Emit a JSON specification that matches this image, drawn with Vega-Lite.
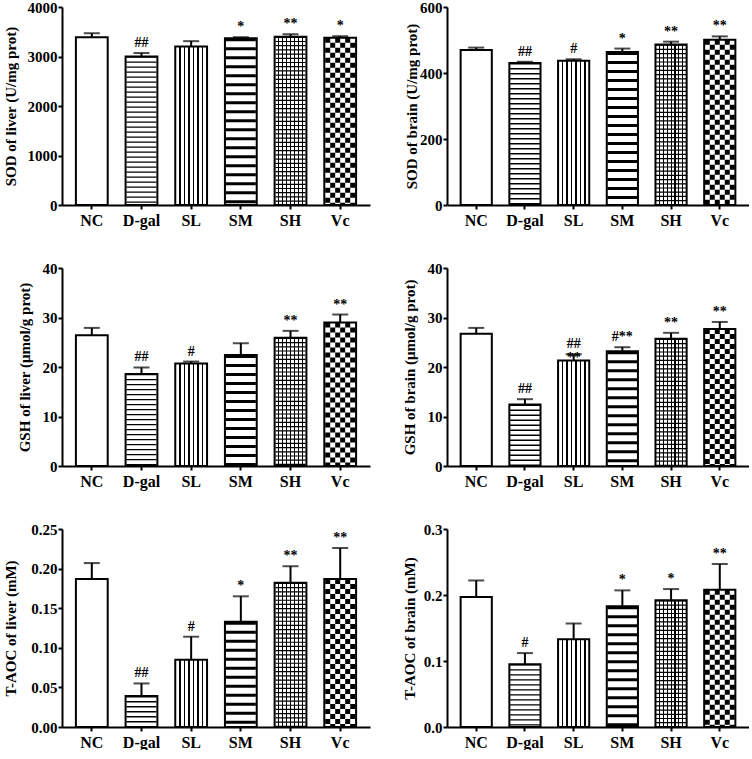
{
"$schema": "https://vega.github.io/schema/vega-lite/v6.json",
"padding": {"left": 2, "top": 0, "right": 0, "bottom": 0},
"background": "white",
"datasets": {"d": [
{"p":1,"g":"NC","v":3390,"e":3470,"s":""},
{"p":1,"g":"D-gal","v":3000,"e":3070,"s":"##"},
{"p":1,"g":"SL","v":3200,"e":3310,"s":""},
{"p":1,"g":"SM","v":3370,"e":3390,"s":"*"},
{"p":1,"g":"SH","v":3400,"e":3450,"s":"**"},
{"p":1,"g":"Vc","v":3380,"e":3410,"s":"*"},
{"p":2,"g":"NC","v":470,"e":477,"s":""},
{"p":2,"g":"D-gal","v":430,"e":434,"s":"##"},
{"p":2,"g":"SL","v":437,"e":442,"s":"#"},
{"p":2,"g":"SM","v":464,"e":474,"s":"*"},
{"p":2,"g":"SH","v":486,"e":495,"s":"**"},
{"p":2,"g":"Vc","v":501,"e":511,"s":"**"},
{"p":3,"g":"NC","v":26.4,"e":27.9,"s":""},
{"p":3,"g":"D-gal","v":18.6,"e":19.9,"s":"##"},
{"p":3,"g":"SL","v":20.7,"e":21.1,"s":"#"},
{"p":3,"g":"SM","v":22.4,"e":24.8,"s":""},
{"p":3,"g":"SH","v":25.9,"e":27.3,"s":"**"},
{"p":3,"g":"Vc","v":29.0,"e":30.6,"s":"**"},
{"p":4,"g":"NC","v":26.7,"e":27.9,"s":""},
{"p":4,"g":"D-gal","v":12.4,"e":13.5,"s":"##"},
{"p":4,"g":"SL","v":21.3,"e":22.6,"s":"##\n**"},
{"p":4,"g":"SM","v":23.2,"e":24.0,"s":"#**"},
{"p":4,"g":"SH","v":25.7,"e":26.9,"s":"**"},
{"p":4,"g":"Vc","v":27.7,"e":29.1,"s":"**"},
{"p":5,"g":"NC","v":0.187,"e":0.207,"s":""},
{"p":5,"g":"D-gal","v":0.039,"e":0.055,"s":"##"},
{"p":5,"g":"SL","v":0.085,"e":0.114,"s":"#"},
{"p":5,"g":"SM","v":0.133,"e":0.165,"s":"*"},
{"p":5,"g":"SH","v":0.182,"e":0.203,"s":"**"},
{"p":5,"g":"Vc","v":0.187,"e":0.226,"s":"**"},
{"p":6,"g":"NC","v":0.197,"e":0.222,"s":""},
{"p":6,"g":"D-gal","v":0.095,"e":0.112,"s":"#"},
{"p":6,"g":"SL","v":0.133,"e":0.157,"s":""},
{"p":6,"g":"SM","v":0.183,"e":0.207,"s":"*"},
{"p":6,"g":"SH","v":0.192,"e":0.209,"s":"*"},
{"p":6,"g":"Vc","v":0.208,"e":0.247,"s":"**"}
]},
"config": {
"view": {"stroke": null},
"font": "Liberation Serif",
"axis": {"grid": false, "domainColor": "#000", "domainWidth": 2, "tickColor": "#000", "tickWidth": 2, "tickSize": 4, "labelFont": "Liberation Serif", "labelFontSize": 16, "labelFontWeight": "bold", "labelColor": "#000", "titleFont": "Liberation Serif", "titleFontSize": 15, "titleFontWeight": "bold", "titleColor": "#000"},
"axisX": {"labelAngle": 0, "labelPadding": 3},
"axisY": {"labelPadding": 1, "labelFontSize": 15, "titleBaseline": "bottom"}
},
"columns": 2,
"spacing": {"row": 63, "column": 77},
"bounds": "flush",
"concat": [
{"width": 308, "height": 198, "data": {"name": "d"}, "transform": [{"filter": "datum.p == 1"}],
"encoding": {"x": {"field": "g", "type": "nominal", "sort": null, "scale": {"domain": ["NC","D-gal","SL","SM","SH","Vc"], "paddingInner": 0.36, "paddingOuter": 0.28}, "axis": {"title": null}},
"y": {"field": "v", "type": "quantitative", "scale": {"domain": [0, 4000], "nice": false}, "axis": {"title": "SOD of liver (U/mg prot)", "values": [0,1000,2000,3000,4000], "format": "d", "titleX": -44}}},
"layer": [
{"mark": {"type": "bar", "fill": "#fff", "strokeWidth": 0}},
{"transform": [{"filter": "datum.g == 'SL'"}], "mark": {"type": "bar", "strokeWidth": 0, "fill": {"gradient":"linear","x1":0,"y1":0,"x2":1,"y2":0,"stops":[{"offset":0,"color":"#fff"},{"offset":0.119,"color":"#fff"},{"offset":0.119,"color":"#000"},{"offset":0.167,"color":"#000"},{"offset":0.167,"color":"#fff"},{"offset":0.262,"color":"#fff"},{"offset":0.262,"color":"#000"},{"offset":0.31,"color":"#000"},{"offset":0.31,"color":"#fff"},{"offset":0.405,"color":"#fff"},{"offset":0.405,"color":"#000"},{"offset":0.453,"color":"#000"},{"offset":0.453,"color":"#fff"},{"offset":0.547,"color":"#fff"},{"offset":0.547,"color":"#000"},{"offset":0.595,"color":"#000"},{"offset":0.595,"color":"#fff"},{"offset":0.69,"color":"#fff"},{"offset":0.69,"color":"#000"},{"offset":0.738,"color":"#000"},{"offset":0.738,"color":"#fff"},{"offset":0.833,"color":"#fff"},{"offset":0.833,"color":"#000"},{"offset":0.881,"color":"#000"},{"offset":0.881,"color":"#fff"},{"offset":1,"color":"#fff"}]}}},
{"transform": [{"filter": "datum.g == 'SH'"}], "mark": {"type": "bar", "strokeWidth": 0, "fill": {"gradient":"linear","x1":0,"y1":0,"x2":1,"y2":0,"stops":[{"offset":0,"color":"#fff"},{"offset":0.107,"color":"#fff"},{"offset":0.107,"color":"#000"},{"offset":0.143,"color":"#000"},{"offset":0.143,"color":"#fff"},{"offset":0.232,"color":"#fff"},{"offset":0.232,"color":"#000"},{"offset":0.268,"color":"#000"},{"offset":0.268,"color":"#fff"},{"offset":0.357,"color":"#fff"},{"offset":0.357,"color":"#000"},{"offset":0.393,"color":"#000"},{"offset":0.393,"color":"#fff"},{"offset":0.482,"color":"#fff"},{"offset":0.482,"color":"#000"},{"offset":0.518,"color":"#000"},{"offset":0.518,"color":"#fff"},{"offset":0.607,"color":"#fff"},{"offset":0.607,"color":"#000"},{"offset":0.643,"color":"#000"},{"offset":0.643,"color":"#fff"},{"offset":0.732,"color":"#fff"},{"offset":0.732,"color":"#000"},{"offset":0.768,"color":"#000"},{"offset":0.768,"color":"#fff"},{"offset":0.857,"color":"#fff"},{"offset":0.857,"color":"#000"},{"offset":0.893,"color":"#000"},{"offset":0.893,"color":"#fff"},{"offset":1,"color":"#fff"}]}}},
{"transform": [{"filter": "datum.g == 'D-gal'"}], "mark": {"type": "rule", "color": "#000", "strokeWidth": 30, "strokeDash": [1.3, 3.7]}, "encoding": {"y2": {"datum": 0}}},
{"transform": [{"filter": "datum.g == 'SM'"}], "mark": {"type": "rule", "color": "#000", "strokeWidth": 30, "strokeDash": [3, 6]}, "encoding": {"y2": {"datum": 0}}},
{"transform": [{"filter": "datum.g == 'SH'"}], "mark": {"type": "rule", "color": "#000", "strokeWidth": 30, "strokeDash": [1.2, 3]}, "encoding": {"y2": {"datum": 0}}},
{"transform": [{"filter": "datum.g == 'Vc'"}], "mark": {"type": "rule", "color": "#000", "strokeWidth": 5, "strokeDash": [5, 5], "xOffset": -12.5}, "encoding": {"y2": {"datum": 0}}},
{"transform": [{"filter": "datum.g == 'Vc'"}], "mark": {"type": "rule", "color": "#000", "strokeWidth": 5, "strokeDash": [5, 5], "strokeDashOffset": 5, "xOffset": -7.5}, "encoding": {"y2": {"datum": 0}}},
{"transform": [{"filter": "datum.g == 'Vc'"}], "mark": {"type": "rule", "color": "#000", "strokeWidth": 5, "strokeDash": [5, 5], "xOffset": -2.5}, "encoding": {"y2": {"datum": 0}}},
{"transform": [{"filter": "datum.g == 'Vc'"}], "mark": {"type": "rule", "color": "#000", "strokeWidth": 5, "strokeDash": [5, 5], "strokeDashOffset": 5, "xOffset": 2.5}, "encoding": {"y2": {"datum": 0}}},
{"transform": [{"filter": "datum.g == 'Vc'"}], "mark": {"type": "rule", "color": "#000", "strokeWidth": 5, "strokeDash": [5, 5], "xOffset": 7.5}, "encoding": {"y2": {"datum": 0}}},
{"transform": [{"filter": "datum.g == 'Vc'"}], "mark": {"type": "rule", "color": "#000", "strokeWidth": 5, "strokeDash": [5, 5], "strokeDashOffset": 5, "xOffset": 12.5}, "encoding": {"y2": {"datum": 0}}},
{"mark": {"type": "bar", "fill": "#fff", "fillOpacity": 0, "stroke": "#000", "strokeWidth": 2}},
{"mark": {"type": "rule", "color": "#000", "strokeWidth": 2}, "encoding": {"y2": {"field": "e"}}},
{"mark": {"type": "tick", "color": "#000", "size": 16, "thickness": 2}, "encoding": {"y": {"field": "e", "type": "quantitative"}}},
{"mark": {"type": "text", "font": "Liberation Serif", "fontWeight": "bold", "fontSize": 14, "baseline": "bottom", "dy": -3, "lineBreak": "\n", "lineHeight": 14, "color": "#000"}, "encoding": {"y": {"field": "e", "type": "quantitative"}, "text": {"field": "s"}}}
]},
{"width": 302, "height": 198, "data": {"name": "d"}, "transform": [{"filter": "datum.p == 2"}],
"encoding": {"x": {"field": "g", "type": "nominal", "sort": null, "scale": {"domain": ["NC","D-gal","SL","SM","SH","Vc"], "paddingInner": 0.36, "paddingOuter": 0.28}, "axis": {"title": null}},
"y": {"field": "v", "type": "quantitative", "scale": {"domain": [0, 600], "nice": false}, "axis": {"title": "SOD of brain (U/mg prot)", "values": [0,200,400,600], "titleX": -28}}},
"layer": [
{"mark": {"type": "bar", "fill": "#fff", "strokeWidth": 0}},
{"transform": [{"filter": "datum.g == 'SL'"}], "mark": {"type": "bar", "strokeWidth": 0, "fill": {"gradient":"linear","x1":0,"y1":0,"x2":1,"y2":0,"stops":[{"offset":0,"color":"#fff"},{"offset":0.119,"color":"#fff"},{"offset":0.119,"color":"#000"},{"offset":0.167,"color":"#000"},{"offset":0.167,"color":"#fff"},{"offset":0.262,"color":"#fff"},{"offset":0.262,"color":"#000"},{"offset":0.31,"color":"#000"},{"offset":0.31,"color":"#fff"},{"offset":0.405,"color":"#fff"},{"offset":0.405,"color":"#000"},{"offset":0.453,"color":"#000"},{"offset":0.453,"color":"#fff"},{"offset":0.547,"color":"#fff"},{"offset":0.547,"color":"#000"},{"offset":0.595,"color":"#000"},{"offset":0.595,"color":"#fff"},{"offset":0.69,"color":"#fff"},{"offset":0.69,"color":"#000"},{"offset":0.738,"color":"#000"},{"offset":0.738,"color":"#fff"},{"offset":0.833,"color":"#fff"},{"offset":0.833,"color":"#000"},{"offset":0.881,"color":"#000"},{"offset":0.881,"color":"#fff"},{"offset":1,"color":"#fff"}]}}},
{"transform": [{"filter": "datum.g == 'SH'"}], "mark": {"type": "bar", "strokeWidth": 0, "fill": {"gradient":"linear","x1":0,"y1":0,"x2":1,"y2":0,"stops":[{"offset":0,"color":"#fff"},{"offset":0.107,"color":"#fff"},{"offset":0.107,"color":"#000"},{"offset":0.143,"color":"#000"},{"offset":0.143,"color":"#fff"},{"offset":0.232,"color":"#fff"},{"offset":0.232,"color":"#000"},{"offset":0.268,"color":"#000"},{"offset":0.268,"color":"#fff"},{"offset":0.357,"color":"#fff"},{"offset":0.357,"color":"#000"},{"offset":0.393,"color":"#000"},{"offset":0.393,"color":"#fff"},{"offset":0.482,"color":"#fff"},{"offset":0.482,"color":"#000"},{"offset":0.518,"color":"#000"},{"offset":0.518,"color":"#fff"},{"offset":0.607,"color":"#fff"},{"offset":0.607,"color":"#000"},{"offset":0.643,"color":"#000"},{"offset":0.643,"color":"#fff"},{"offset":0.732,"color":"#fff"},{"offset":0.732,"color":"#000"},{"offset":0.768,"color":"#000"},{"offset":0.768,"color":"#fff"},{"offset":0.857,"color":"#fff"},{"offset":0.857,"color":"#000"},{"offset":0.893,"color":"#000"},{"offset":0.893,"color":"#fff"},{"offset":1,"color":"#fff"}]}}},
{"transform": [{"filter": "datum.g == 'D-gal'"}], "mark": {"type": "rule", "color": "#000", "strokeWidth": 30, "strokeDash": [1.3, 3.7]}, "encoding": {"y2": {"datum": 0}}},
{"transform": [{"filter": "datum.g == 'SM'"}], "mark": {"type": "rule", "color": "#000", "strokeWidth": 30, "strokeDash": [3, 6]}, "encoding": {"y2": {"datum": 0}}},
{"transform": [{"filter": "datum.g == 'SH'"}], "mark": {"type": "rule", "color": "#000", "strokeWidth": 30, "strokeDash": [1.2, 3]}, "encoding": {"y2": {"datum": 0}}},
{"transform": [{"filter": "datum.g == 'Vc'"}], "mark": {"type": "rule", "color": "#000", "strokeWidth": 5, "strokeDash": [5, 5], "xOffset": -12.5}, "encoding": {"y2": {"datum": 0}}},
{"transform": [{"filter": "datum.g == 'Vc'"}], "mark": {"type": "rule", "color": "#000", "strokeWidth": 5, "strokeDash": [5, 5], "strokeDashOffset": 5, "xOffset": -7.5}, "encoding": {"y2": {"datum": 0}}},
{"transform": [{"filter": "datum.g == 'Vc'"}], "mark": {"type": "rule", "color": "#000", "strokeWidth": 5, "strokeDash": [5, 5], "xOffset": -2.5}, "encoding": {"y2": {"datum": 0}}},
{"transform": [{"filter": "datum.g == 'Vc'"}], "mark": {"type": "rule", "color": "#000", "strokeWidth": 5, "strokeDash": [5, 5], "strokeDashOffset": 5, "xOffset": 2.5}, "encoding": {"y2": {"datum": 0}}},
{"transform": [{"filter": "datum.g == 'Vc'"}], "mark": {"type": "rule", "color": "#000", "strokeWidth": 5, "strokeDash": [5, 5], "xOffset": 7.5}, "encoding": {"y2": {"datum": 0}}},
{"transform": [{"filter": "datum.g == 'Vc'"}], "mark": {"type": "rule", "color": "#000", "strokeWidth": 5, "strokeDash": [5, 5], "strokeDashOffset": 5, "xOffset": 12.5}, "encoding": {"y2": {"datum": 0}}},
{"mark": {"type": "bar", "fill": "#fff", "fillOpacity": 0, "stroke": "#000", "strokeWidth": 2}},
{"mark": {"type": "rule", "color": "#000", "strokeWidth": 2}, "encoding": {"y2": {"field": "e"}}},
{"mark": {"type": "tick", "color": "#000", "size": 16, "thickness": 2}, "encoding": {"y": {"field": "e", "type": "quantitative"}}},
{"mark": {"type": "text", "font": "Liberation Serif", "fontWeight": "bold", "fontSize": 14, "baseline": "bottom", "dy": -3, "lineBreak": "\n", "lineHeight": 14, "color": "#000"}, "encoding": {"y": {"field": "e", "type": "quantitative"}, "text": {"field": "s"}}}
]},
{"width": 308, "height": 198, "data": {"name": "d"}, "transform": [{"filter": "datum.p == 3"}],
"encoding": {"x": {"field": "g", "type": "nominal", "sort": null, "scale": {"domain": ["NC","D-gal","SL","SM","SH","Vc"], "paddingInner": 0.36, "paddingOuter": 0.28}, "axis": {"title": null}},
"y": {"field": "v", "type": "quantitative", "scale": {"domain": [0, 40], "nice": false}, "axis": {"title": "GSH of liver (μmol/g prot)", "values": [0,10,20,30,40], "titleX": -30}}},
"layer": [
{"mark": {"type": "bar", "fill": "#fff", "strokeWidth": 0}},
{"transform": [{"filter": "datum.g == 'SL'"}], "mark": {"type": "bar", "strokeWidth": 0, "fill": {"gradient":"linear","x1":0,"y1":0,"x2":1,"y2":0,"stops":[{"offset":0,"color":"#fff"},{"offset":0.119,"color":"#fff"},{"offset":0.119,"color":"#000"},{"offset":0.167,"color":"#000"},{"offset":0.167,"color":"#fff"},{"offset":0.262,"color":"#fff"},{"offset":0.262,"color":"#000"},{"offset":0.31,"color":"#000"},{"offset":0.31,"color":"#fff"},{"offset":0.405,"color":"#fff"},{"offset":0.405,"color":"#000"},{"offset":0.453,"color":"#000"},{"offset":0.453,"color":"#fff"},{"offset":0.547,"color":"#fff"},{"offset":0.547,"color":"#000"},{"offset":0.595,"color":"#000"},{"offset":0.595,"color":"#fff"},{"offset":0.69,"color":"#fff"},{"offset":0.69,"color":"#000"},{"offset":0.738,"color":"#000"},{"offset":0.738,"color":"#fff"},{"offset":0.833,"color":"#fff"},{"offset":0.833,"color":"#000"},{"offset":0.881,"color":"#000"},{"offset":0.881,"color":"#fff"},{"offset":1,"color":"#fff"}]}}},
{"transform": [{"filter": "datum.g == 'SH'"}], "mark": {"type": "bar", "strokeWidth": 0, "fill": {"gradient":"linear","x1":0,"y1":0,"x2":1,"y2":0,"stops":[{"offset":0,"color":"#fff"},{"offset":0.107,"color":"#fff"},{"offset":0.107,"color":"#000"},{"offset":0.143,"color":"#000"},{"offset":0.143,"color":"#fff"},{"offset":0.232,"color":"#fff"},{"offset":0.232,"color":"#000"},{"offset":0.268,"color":"#000"},{"offset":0.268,"color":"#fff"},{"offset":0.357,"color":"#fff"},{"offset":0.357,"color":"#000"},{"offset":0.393,"color":"#000"},{"offset":0.393,"color":"#fff"},{"offset":0.482,"color":"#fff"},{"offset":0.482,"color":"#000"},{"offset":0.518,"color":"#000"},{"offset":0.518,"color":"#fff"},{"offset":0.607,"color":"#fff"},{"offset":0.607,"color":"#000"},{"offset":0.643,"color":"#000"},{"offset":0.643,"color":"#fff"},{"offset":0.732,"color":"#fff"},{"offset":0.732,"color":"#000"},{"offset":0.768,"color":"#000"},{"offset":0.768,"color":"#fff"},{"offset":0.857,"color":"#fff"},{"offset":0.857,"color":"#000"},{"offset":0.893,"color":"#000"},{"offset":0.893,"color":"#fff"},{"offset":1,"color":"#fff"}]}}},
{"transform": [{"filter": "datum.g == 'D-gal'"}], "mark": {"type": "rule", "color": "#000", "strokeWidth": 30, "strokeDash": [1.3, 3.7]}, "encoding": {"y2": {"datum": 0}}},
{"transform": [{"filter": "datum.g == 'SM'"}], "mark": {"type": "rule", "color": "#000", "strokeWidth": 30, "strokeDash": [3, 6]}, "encoding": {"y2": {"datum": 0}}},
{"transform": [{"filter": "datum.g == 'SH'"}], "mark": {"type": "rule", "color": "#000", "strokeWidth": 30, "strokeDash": [1.2, 3]}, "encoding": {"y2": {"datum": 0}}},
{"transform": [{"filter": "datum.g == 'Vc'"}], "mark": {"type": "rule", "color": "#000", "strokeWidth": 5, "strokeDash": [5, 5], "xOffset": -12.5}, "encoding": {"y2": {"datum": 0}}},
{"transform": [{"filter": "datum.g == 'Vc'"}], "mark": {"type": "rule", "color": "#000", "strokeWidth": 5, "strokeDash": [5, 5], "strokeDashOffset": 5, "xOffset": -7.5}, "encoding": {"y2": {"datum": 0}}},
{"transform": [{"filter": "datum.g == 'Vc'"}], "mark": {"type": "rule", "color": "#000", "strokeWidth": 5, "strokeDash": [5, 5], "xOffset": -2.5}, "encoding": {"y2": {"datum": 0}}},
{"transform": [{"filter": "datum.g == 'Vc'"}], "mark": {"type": "rule", "color": "#000", "strokeWidth": 5, "strokeDash": [5, 5], "strokeDashOffset": 5, "xOffset": 2.5}, "encoding": {"y2": {"datum": 0}}},
{"transform": [{"filter": "datum.g == 'Vc'"}], "mark": {"type": "rule", "color": "#000", "strokeWidth": 5, "strokeDash": [5, 5], "xOffset": 7.5}, "encoding": {"y2": {"datum": 0}}},
{"transform": [{"filter": "datum.g == 'Vc'"}], "mark": {"type": "rule", "color": "#000", "strokeWidth": 5, "strokeDash": [5, 5], "strokeDashOffset": 5, "xOffset": 12.5}, "encoding": {"y2": {"datum": 0}}},
{"mark": {"type": "bar", "fill": "#fff", "fillOpacity": 0, "stroke": "#000", "strokeWidth": 2}},
{"mark": {"type": "rule", "color": "#000", "strokeWidth": 2}, "encoding": {"y2": {"field": "e"}}},
{"mark": {"type": "tick", "color": "#000", "size": 16, "thickness": 2}, "encoding": {"y": {"field": "e", "type": "quantitative"}}},
{"mark": {"type": "text", "font": "Liberation Serif", "fontWeight": "bold", "fontSize": 14, "baseline": "bottom", "dy": -3, "lineBreak": "\n", "lineHeight": 14, "color": "#000"}, "encoding": {"y": {"field": "e", "type": "quantitative"}, "text": {"field": "s"}}}
]},
{"width": 302, "height": 198, "data": {"name": "d"}, "transform": [{"filter": "datum.p == 4"}],
"encoding": {"x": {"field": "g", "type": "nominal", "sort": null, "scale": {"domain": ["NC","D-gal","SL","SM","SH","Vc"], "paddingInner": 0.36, "paddingOuter": 0.28}, "axis": {"title": null}},
"y": {"field": "v", "type": "quantitative", "scale": {"domain": [0, 40], "nice": false}, "axis": {"title": "GSH of brain (μmol/g prot)", "values": [0,10,20,30,40], "titleX": -30}}},
"layer": [
{"mark": {"type": "bar", "fill": "#fff", "strokeWidth": 0}},
{"transform": [{"filter": "datum.g == 'SL'"}], "mark": {"type": "bar", "strokeWidth": 0, "fill": {"gradient":"linear","x1":0,"y1":0,"x2":1,"y2":0,"stops":[{"offset":0,"color":"#fff"},{"offset":0.119,"color":"#fff"},{"offset":0.119,"color":"#000"},{"offset":0.167,"color":"#000"},{"offset":0.167,"color":"#fff"},{"offset":0.262,"color":"#fff"},{"offset":0.262,"color":"#000"},{"offset":0.31,"color":"#000"},{"offset":0.31,"color":"#fff"},{"offset":0.405,"color":"#fff"},{"offset":0.405,"color":"#000"},{"offset":0.453,"color":"#000"},{"offset":0.453,"color":"#fff"},{"offset":0.547,"color":"#fff"},{"offset":0.547,"color":"#000"},{"offset":0.595,"color":"#000"},{"offset":0.595,"color":"#fff"},{"offset":0.69,"color":"#fff"},{"offset":0.69,"color":"#000"},{"offset":0.738,"color":"#000"},{"offset":0.738,"color":"#fff"},{"offset":0.833,"color":"#fff"},{"offset":0.833,"color":"#000"},{"offset":0.881,"color":"#000"},{"offset":0.881,"color":"#fff"},{"offset":1,"color":"#fff"}]}}},
{"transform": [{"filter": "datum.g == 'SH'"}], "mark": {"type": "bar", "strokeWidth": 0, "fill": {"gradient":"linear","x1":0,"y1":0,"x2":1,"y2":0,"stops":[{"offset":0,"color":"#fff"},{"offset":0.107,"color":"#fff"},{"offset":0.107,"color":"#000"},{"offset":0.143,"color":"#000"},{"offset":0.143,"color":"#fff"},{"offset":0.232,"color":"#fff"},{"offset":0.232,"color":"#000"},{"offset":0.268,"color":"#000"},{"offset":0.268,"color":"#fff"},{"offset":0.357,"color":"#fff"},{"offset":0.357,"color":"#000"},{"offset":0.393,"color":"#000"},{"offset":0.393,"color":"#fff"},{"offset":0.482,"color":"#fff"},{"offset":0.482,"color":"#000"},{"offset":0.518,"color":"#000"},{"offset":0.518,"color":"#fff"},{"offset":0.607,"color":"#fff"},{"offset":0.607,"color":"#000"},{"offset":0.643,"color":"#000"},{"offset":0.643,"color":"#fff"},{"offset":0.732,"color":"#fff"},{"offset":0.732,"color":"#000"},{"offset":0.768,"color":"#000"},{"offset":0.768,"color":"#fff"},{"offset":0.857,"color":"#fff"},{"offset":0.857,"color":"#000"},{"offset":0.893,"color":"#000"},{"offset":0.893,"color":"#fff"},{"offset":1,"color":"#fff"}]}}},
{"transform": [{"filter": "datum.g == 'D-gal'"}], "mark": {"type": "rule", "color": "#000", "strokeWidth": 30, "strokeDash": [1.3, 3.7]}, "encoding": {"y2": {"datum": 0}}},
{"transform": [{"filter": "datum.g == 'SM'"}], "mark": {"type": "rule", "color": "#000", "strokeWidth": 30, "strokeDash": [3, 6]}, "encoding": {"y2": {"datum": 0}}},
{"transform": [{"filter": "datum.g == 'SH'"}], "mark": {"type": "rule", "color": "#000", "strokeWidth": 30, "strokeDash": [1.2, 3]}, "encoding": {"y2": {"datum": 0}}},
{"transform": [{"filter": "datum.g == 'Vc'"}], "mark": {"type": "rule", "color": "#000", "strokeWidth": 5, "strokeDash": [5, 5], "xOffset": -12.5}, "encoding": {"y2": {"datum": 0}}},
{"transform": [{"filter": "datum.g == 'Vc'"}], "mark": {"type": "rule", "color": "#000", "strokeWidth": 5, "strokeDash": [5, 5], "strokeDashOffset": 5, "xOffset": -7.5}, "encoding": {"y2": {"datum": 0}}},
{"transform": [{"filter": "datum.g == 'Vc'"}], "mark": {"type": "rule", "color": "#000", "strokeWidth": 5, "strokeDash": [5, 5], "xOffset": -2.5}, "encoding": {"y2": {"datum": 0}}},
{"transform": [{"filter": "datum.g == 'Vc'"}], "mark": {"type": "rule", "color": "#000", "strokeWidth": 5, "strokeDash": [5, 5], "strokeDashOffset": 5, "xOffset": 2.5}, "encoding": {"y2": {"datum": 0}}},
{"transform": [{"filter": "datum.g == 'Vc'"}], "mark": {"type": "rule", "color": "#000", "strokeWidth": 5, "strokeDash": [5, 5], "xOffset": 7.5}, "encoding": {"y2": {"datum": 0}}},
{"transform": [{"filter": "datum.g == 'Vc'"}], "mark": {"type": "rule", "color": "#000", "strokeWidth": 5, "strokeDash": [5, 5], "strokeDashOffset": 5, "xOffset": 12.5}, "encoding": {"y2": {"datum": 0}}},
{"mark": {"type": "bar", "fill": "#fff", "fillOpacity": 0, "stroke": "#000", "strokeWidth": 2}},
{"mark": {"type": "rule", "color": "#000", "strokeWidth": 2}, "encoding": {"y2": {"field": "e"}}},
{"mark": {"type": "tick", "color": "#000", "size": 16, "thickness": 2}, "encoding": {"y": {"field": "e", "type": "quantitative"}}},
{"mark": {"type": "text", "font": "Liberation Serif", "fontWeight": "bold", "fontSize": 14, "baseline": "bottom", "dy": -3, "lineBreak": "\n", "lineHeight": 14, "color": "#000"}, "encoding": {"y": {"field": "e", "type": "quantitative"}, "text": {"field": "s"}}}
]},
{"width": 308, "height": 198, "data": {"name": "d"}, "transform": [{"filter": "datum.p == 5"}],
"encoding": {"x": {"field": "g", "type": "nominal", "sort": null, "scale": {"domain": ["NC","D-gal","SL","SM","SH","Vc"], "paddingInner": 0.36, "paddingOuter": 0.28}, "axis": {"title": null}},
"y": {"field": "v", "type": "quantitative", "scale": {"domain": [0, 0.25], "nice": false}, "axis": {"title": "T-AOC of liver (mM)", "values": [0,0.05,0.1,0.15,0.2,0.25], "format": ".2f", "titleX": -44}}},
"layer": [
{"mark": {"type": "bar", "fill": "#fff", "strokeWidth": 0}},
{"transform": [{"filter": "datum.g == 'SL'"}], "mark": {"type": "bar", "strokeWidth": 0, "fill": {"gradient":"linear","x1":0,"y1":0,"x2":1,"y2":0,"stops":[{"offset":0,"color":"#fff"},{"offset":0.119,"color":"#fff"},{"offset":0.119,"color":"#000"},{"offset":0.167,"color":"#000"},{"offset":0.167,"color":"#fff"},{"offset":0.262,"color":"#fff"},{"offset":0.262,"color":"#000"},{"offset":0.31,"color":"#000"},{"offset":0.31,"color":"#fff"},{"offset":0.405,"color":"#fff"},{"offset":0.405,"color":"#000"},{"offset":0.453,"color":"#000"},{"offset":0.453,"color":"#fff"},{"offset":0.547,"color":"#fff"},{"offset":0.547,"color":"#000"},{"offset":0.595,"color":"#000"},{"offset":0.595,"color":"#fff"},{"offset":0.69,"color":"#fff"},{"offset":0.69,"color":"#000"},{"offset":0.738,"color":"#000"},{"offset":0.738,"color":"#fff"},{"offset":0.833,"color":"#fff"},{"offset":0.833,"color":"#000"},{"offset":0.881,"color":"#000"},{"offset":0.881,"color":"#fff"},{"offset":1,"color":"#fff"}]}}},
{"transform": [{"filter": "datum.g == 'SH'"}], "mark": {"type": "bar", "strokeWidth": 0, "fill": {"gradient":"linear","x1":0,"y1":0,"x2":1,"y2":0,"stops":[{"offset":0,"color":"#fff"},{"offset":0.107,"color":"#fff"},{"offset":0.107,"color":"#000"},{"offset":0.143,"color":"#000"},{"offset":0.143,"color":"#fff"},{"offset":0.232,"color":"#fff"},{"offset":0.232,"color":"#000"},{"offset":0.268,"color":"#000"},{"offset":0.268,"color":"#fff"},{"offset":0.357,"color":"#fff"},{"offset":0.357,"color":"#000"},{"offset":0.393,"color":"#000"},{"offset":0.393,"color":"#fff"},{"offset":0.482,"color":"#fff"},{"offset":0.482,"color":"#000"},{"offset":0.518,"color":"#000"},{"offset":0.518,"color":"#fff"},{"offset":0.607,"color":"#fff"},{"offset":0.607,"color":"#000"},{"offset":0.643,"color":"#000"},{"offset":0.643,"color":"#fff"},{"offset":0.732,"color":"#fff"},{"offset":0.732,"color":"#000"},{"offset":0.768,"color":"#000"},{"offset":0.768,"color":"#fff"},{"offset":0.857,"color":"#fff"},{"offset":0.857,"color":"#000"},{"offset":0.893,"color":"#000"},{"offset":0.893,"color":"#fff"},{"offset":1,"color":"#fff"}]}}},
{"transform": [{"filter": "datum.g == 'D-gal'"}], "mark": {"type": "rule", "color": "#000", "strokeWidth": 30, "strokeDash": [1.3, 3.7]}, "encoding": {"y2": {"datum": 0}}},
{"transform": [{"filter": "datum.g == 'SM'"}], "mark": {"type": "rule", "color": "#000", "strokeWidth": 30, "strokeDash": [3, 6]}, "encoding": {"y2": {"datum": 0}}},
{"transform": [{"filter": "datum.g == 'SH'"}], "mark": {"type": "rule", "color": "#000", "strokeWidth": 30, "strokeDash": [1.2, 3]}, "encoding": {"y2": {"datum": 0}}},
{"transform": [{"filter": "datum.g == 'Vc'"}], "mark": {"type": "rule", "color": "#000", "strokeWidth": 5, "strokeDash": [5, 5], "xOffset": -12.5}, "encoding": {"y2": {"datum": 0}}},
{"transform": [{"filter": "datum.g == 'Vc'"}], "mark": {"type": "rule", "color": "#000", "strokeWidth": 5, "strokeDash": [5, 5], "strokeDashOffset": 5, "xOffset": -7.5}, "encoding": {"y2": {"datum": 0}}},
{"transform": [{"filter": "datum.g == 'Vc'"}], "mark": {"type": "rule", "color": "#000", "strokeWidth": 5, "strokeDash": [5, 5], "xOffset": -2.5}, "encoding": {"y2": {"datum": 0}}},
{"transform": [{"filter": "datum.g == 'Vc'"}], "mark": {"type": "rule", "color": "#000", "strokeWidth": 5, "strokeDash": [5, 5], "strokeDashOffset": 5, "xOffset": 2.5}, "encoding": {"y2": {"datum": 0}}},
{"transform": [{"filter": "datum.g == 'Vc'"}], "mark": {"type": "rule", "color": "#000", "strokeWidth": 5, "strokeDash": [5, 5], "xOffset": 7.5}, "encoding": {"y2": {"datum": 0}}},
{"transform": [{"filter": "datum.g == 'Vc'"}], "mark": {"type": "rule", "color": "#000", "strokeWidth": 5, "strokeDash": [5, 5], "strokeDashOffset": 5, "xOffset": 12.5}, "encoding": {"y2": {"datum": 0}}},
{"mark": {"type": "bar", "fill": "#fff", "fillOpacity": 0, "stroke": "#000", "strokeWidth": 2}},
{"mark": {"type": "rule", "color": "#000", "strokeWidth": 2}, "encoding": {"y2": {"field": "e"}}},
{"mark": {"type": "tick", "color": "#000", "size": 16, "thickness": 2}, "encoding": {"y": {"field": "e", "type": "quantitative"}}},
{"mark": {"type": "text", "font": "Liberation Serif", "fontWeight": "bold", "fontSize": 14, "baseline": "bottom", "dy": -3, "lineBreak": "\n", "lineHeight": 14, "color": "#000"}, "encoding": {"y": {"field": "e", "type": "quantitative"}, "text": {"field": "s"}}}
]},
{"width": 302, "height": 198, "data": {"name": "d"}, "transform": [{"filter": "datum.p == 6"}],
"encoding": {"x": {"field": "g", "type": "nominal", "sort": null, "scale": {"domain": ["NC","D-gal","SL","SM","SH","Vc"], "paddingInner": 0.36, "paddingOuter": 0.28}, "axis": {"title": null}},
"y": {"field": "v", "type": "quantitative", "scale": {"domain": [0, 0.3], "nice": false}, "axis": {"title": "T-AOC of brain (mM)", "values": [0,0.1,0.2,0.3], "format": ".1f", "titleX": -30}}},
"layer": [
{"mark": {"type": "bar", "fill": "#fff", "strokeWidth": 0}},
{"transform": [{"filter": "datum.g == 'SL'"}], "mark": {"type": "bar", "strokeWidth": 0, "fill": {"gradient":"linear","x1":0,"y1":0,"x2":1,"y2":0,"stops":[{"offset":0,"color":"#fff"},{"offset":0.119,"color":"#fff"},{"offset":0.119,"color":"#000"},{"offset":0.167,"color":"#000"},{"offset":0.167,"color":"#fff"},{"offset":0.262,"color":"#fff"},{"offset":0.262,"color":"#000"},{"offset":0.31,"color":"#000"},{"offset":0.31,"color":"#fff"},{"offset":0.405,"color":"#fff"},{"offset":0.405,"color":"#000"},{"offset":0.453,"color":"#000"},{"offset":0.453,"color":"#fff"},{"offset":0.547,"color":"#fff"},{"offset":0.547,"color":"#000"},{"offset":0.595,"color":"#000"},{"offset":0.595,"color":"#fff"},{"offset":0.69,"color":"#fff"},{"offset":0.69,"color":"#000"},{"offset":0.738,"color":"#000"},{"offset":0.738,"color":"#fff"},{"offset":0.833,"color":"#fff"},{"offset":0.833,"color":"#000"},{"offset":0.881,"color":"#000"},{"offset":0.881,"color":"#fff"},{"offset":1,"color":"#fff"}]}}},
{"transform": [{"filter": "datum.g == 'SH'"}], "mark": {"type": "bar", "strokeWidth": 0, "fill": {"gradient":"linear","x1":0,"y1":0,"x2":1,"y2":0,"stops":[{"offset":0,"color":"#fff"},{"offset":0.107,"color":"#fff"},{"offset":0.107,"color":"#000"},{"offset":0.143,"color":"#000"},{"offset":0.143,"color":"#fff"},{"offset":0.232,"color":"#fff"},{"offset":0.232,"color":"#000"},{"offset":0.268,"color":"#000"},{"offset":0.268,"color":"#fff"},{"offset":0.357,"color":"#fff"},{"offset":0.357,"color":"#000"},{"offset":0.393,"color":"#000"},{"offset":0.393,"color":"#fff"},{"offset":0.482,"color":"#fff"},{"offset":0.482,"color":"#000"},{"offset":0.518,"color":"#000"},{"offset":0.518,"color":"#fff"},{"offset":0.607,"color":"#fff"},{"offset":0.607,"color":"#000"},{"offset":0.643,"color":"#000"},{"offset":0.643,"color":"#fff"},{"offset":0.732,"color":"#fff"},{"offset":0.732,"color":"#000"},{"offset":0.768,"color":"#000"},{"offset":0.768,"color":"#fff"},{"offset":0.857,"color":"#fff"},{"offset":0.857,"color":"#000"},{"offset":0.893,"color":"#000"},{"offset":0.893,"color":"#fff"},{"offset":1,"color":"#fff"}]}}},
{"transform": [{"filter": "datum.g == 'D-gal'"}], "mark": {"type": "rule", "color": "#000", "strokeWidth": 30, "strokeDash": [1.3, 3.7]}, "encoding": {"y2": {"datum": 0}}},
{"transform": [{"filter": "datum.g == 'SM'"}], "mark": {"type": "rule", "color": "#000", "strokeWidth": 30, "strokeDash": [3, 6]}, "encoding": {"y2": {"datum": 0}}},
{"transform": [{"filter": "datum.g == 'SH'"}], "mark": {"type": "rule", "color": "#000", "strokeWidth": 30, "strokeDash": [1.2, 3]}, "encoding": {"y2": {"datum": 0}}},
{"transform": [{"filter": "datum.g == 'Vc'"}], "mark": {"type": "rule", "color": "#000", "strokeWidth": 5, "strokeDash": [5, 5], "xOffset": -12.5}, "encoding": {"y2": {"datum": 0}}},
{"transform": [{"filter": "datum.g == 'Vc'"}], "mark": {"type": "rule", "color": "#000", "strokeWidth": 5, "strokeDash": [5, 5], "strokeDashOffset": 5, "xOffset": -7.5}, "encoding": {"y2": {"datum": 0}}},
{"transform": [{"filter": "datum.g == 'Vc'"}], "mark": {"type": "rule", "color": "#000", "strokeWidth": 5, "strokeDash": [5, 5], "xOffset": -2.5}, "encoding": {"y2": {"datum": 0}}},
{"transform": [{"filter": "datum.g == 'Vc'"}], "mark": {"type": "rule", "color": "#000", "strokeWidth": 5, "strokeDash": [5, 5], "strokeDashOffset": 5, "xOffset": 2.5}, "encoding": {"y2": {"datum": 0}}},
{"transform": [{"filter": "datum.g == 'Vc'"}], "mark": {"type": "rule", "color": "#000", "strokeWidth": 5, "strokeDash": [5, 5], "xOffset": 7.5}, "encoding": {"y2": {"datum": 0}}},
{"transform": [{"filter": "datum.g == 'Vc'"}], "mark": {"type": "rule", "color": "#000", "strokeWidth": 5, "strokeDash": [5, 5], "strokeDashOffset": 5, "xOffset": 12.5}, "encoding": {"y2": {"datum": 0}}},
{"mark": {"type": "bar", "fill": "#fff", "fillOpacity": 0, "stroke": "#000", "strokeWidth": 2}},
{"mark": {"type": "rule", "color": "#000", "strokeWidth": 2}, "encoding": {"y2": {"field": "e"}}},
{"mark": {"type": "tick", "color": "#000", "size": 16, "thickness": 2}, "encoding": {"y": {"field": "e", "type": "quantitative"}}},
{"mark": {"type": "text", "font": "Liberation Serif", "fontWeight": "bold", "fontSize": 14, "baseline": "bottom", "dy": -3, "lineBreak": "\n", "lineHeight": 14, "color": "#000"}, "encoding": {"y": {"field": "e", "type": "quantitative"}, "text": {"field": "s"}}}
]}
]
}
